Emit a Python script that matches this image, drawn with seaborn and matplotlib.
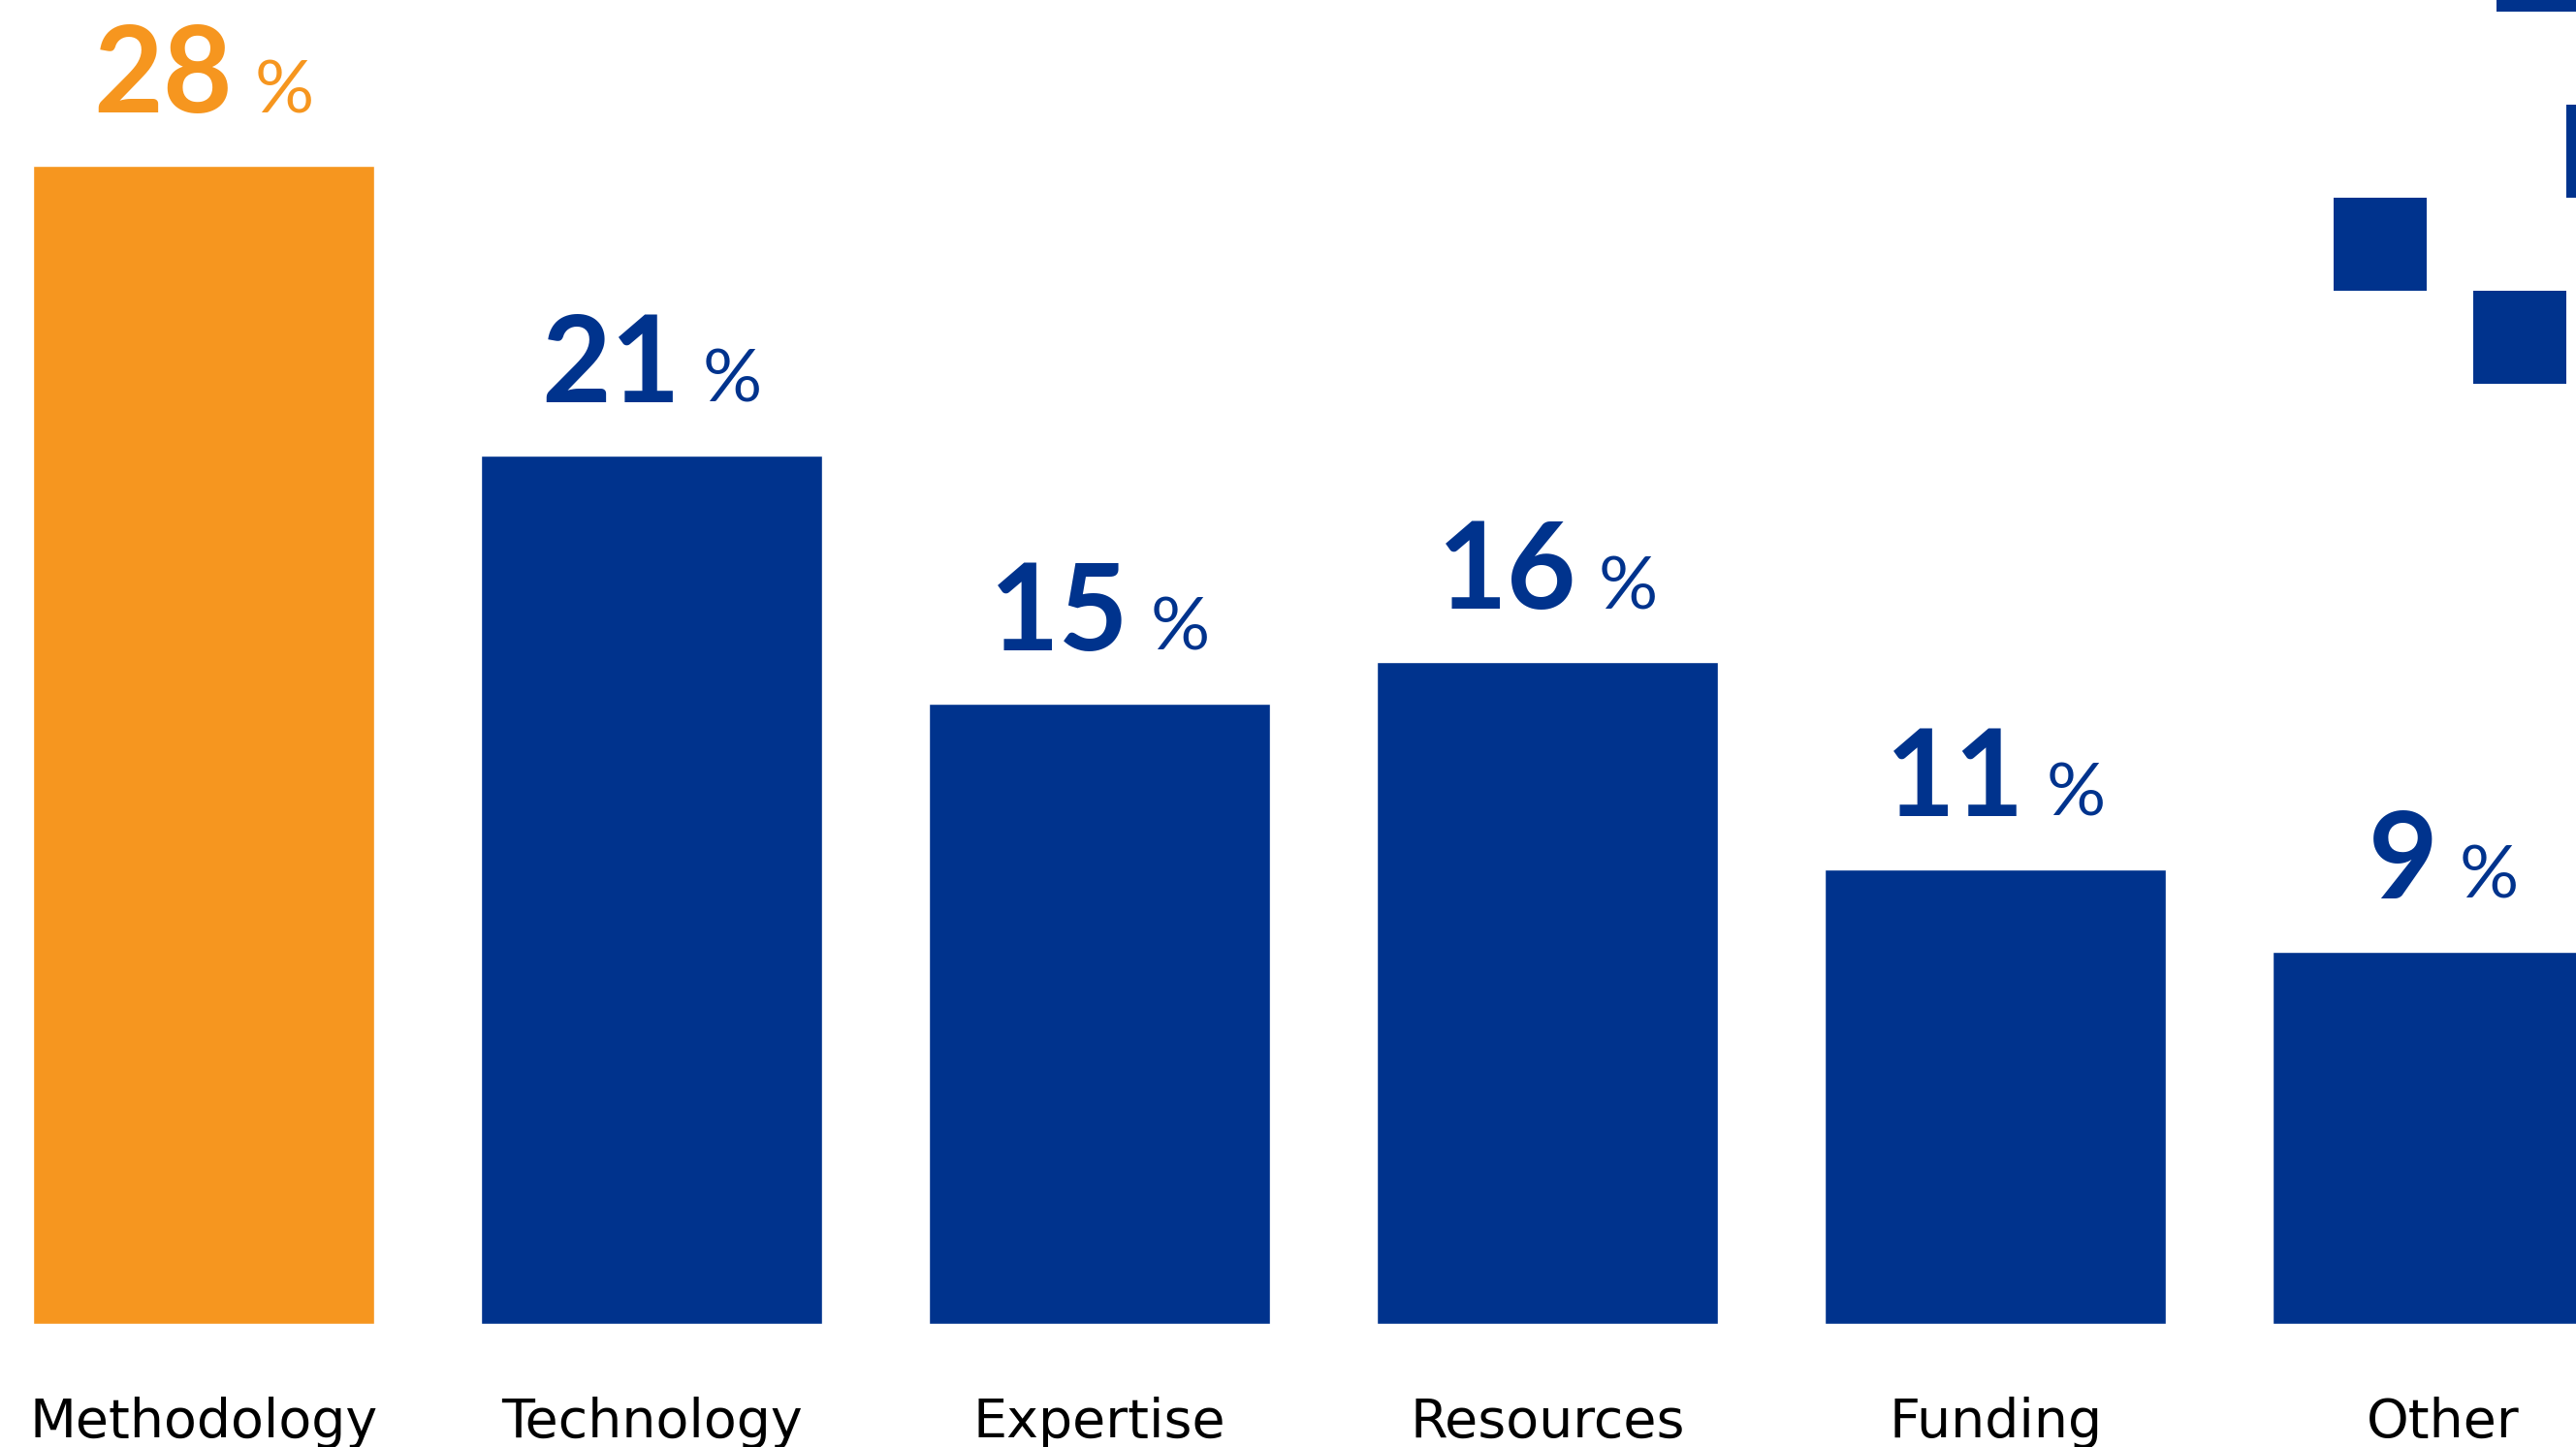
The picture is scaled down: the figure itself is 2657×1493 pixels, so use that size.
import matplotlib
matplotlib.use("Agg")
import matplotlib.pyplot as plt
from matplotlib.patches import Rectangle
import seaborn as sns
import pandas as pd

# Survey results: main obstacles
categories = ["Methodology", "Technology", "Expertise", "Resources", "Funding", "Other"]
shares = [28, 21, 15, 16, 11, 9]

ORANGE = "#F6961F"
BLUE = "#00338D"
bar_colors = [ORANGE, BLUE, BLUE, BLUE, BLUE, BLUE]

DPI = 100
W, H = 2657, 1493

sns.set_theme(style="white")
plt.rcParams["font.family"] = ["DejaVu Sans"]

fig = plt.figure(figsize=(W / DPI, H / DPI), dpi=DPI)
fig.patch.set_facecolor("white")

# Plot area: baseline of the bars sits 127 px above the bottom edge
bottom_px = 127
ax = fig.add_axes([0, bottom_px / H, 1, (H - bottom_px) / H])

df = pd.DataFrame({"category": categories, "share": shares})
sns.barplot(
    data=df, x="category", y="share", hue="category",
    palette=dict(zip(categories, bar_colors)), dodge=False,
    width=0.763, saturation=1, legend=False, ax=ax,
)

ax.set_xlim(-0.4545, 5.296)
ax.set_ylim(0, 32.01)
ax.set_facecolor("white")
for s in ax.spines.values():
    s.set_visible(False)
ax.set_xticks([])
ax.set_yticks([])
ax.set_xlabel("")
ax.set_ylabel("")

# Category names under each bar
for i, name in enumerate(categories):
    ax.annotate(
        name, xy=(i, 0), xycoords="data",
        xytext=(0, -117 * 72 / DPI), textcoords="offset points",
        ha="center", va="baseline", fontsize=40, color="black",
    )

# Value labels: large number followed by a smaller percent sign, centred on the bar
fig.canvas.draw()
renderer = fig.canvas.get_renderer()
lift = 55 * 72 / DPI
gap_px = 22
for i, (v, c) in enumerate(zip(shares, bar_colors)):
    num = ax.annotate(
        f"{v}", xy=(i, v), xycoords="data", xytext=(0, lift),
        textcoords="offset points", ha="left", va="baseline",
        fontsize=89, fontweight="bold", color=c,
        family=["Lato", "DejaVu Sans"],
    )
    pct = ax.annotate(
        "%", xy=(i, v), xycoords="data", xytext=(0, lift),
        textcoords="offset points", ha="left", va="baseline",
        fontsize=55, color=c, family=["Lato", "DejaVu Sans"],
    )
    wn = num.get_window_extent(renderer).width
    wp = pct.get_window_extent(renderer).width
    total = wn + gap_px + wp
    num.set_position((-total / 2 * 72 / DPI, lift))
    pct.set_position(((-total / 2 + wn + gap_px) * 72 / DPI, lift))

# Decorative squares in the top-right corner (pixel boxes: x, y from top, w, h)
squares = [
    (2575, -84, 96, 96),
    (2647, 108, 96, 96),
    (2407, 204, 96, 96),
    (2551, 300, 96, 96),
]
for x, y, w, h in squares:
    fig.patches.append(Rectangle(
        (x / W, 1 - (y + h) / H), w / W, h / H,
        transform=fig.transFigure, facecolor=BLUE, edgecolor="none",
    ))

fig.savefig("out.png", dpi=DPI, facecolor="white")
